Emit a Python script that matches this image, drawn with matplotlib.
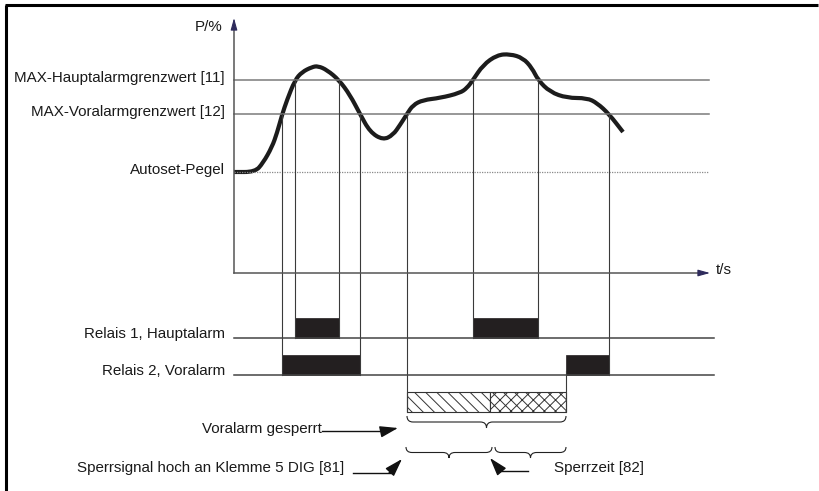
import matplotlib
matplotlib.use("Agg")
import matplotlib.pyplot as plt
from matplotlib.path import Path
from matplotlib.patches import PathPatch, Rectangle

plt.rcParams["font.family"] = ["Liberation Sans", "DejaVu Sans"]
plt.rcParams["hatch.linewidth"] = 0.7

# ---- signal level over time (t, P) ----
curve_t = [0, 21, 29, 38, 43, 48, 53, 61, 68, 78, 84, 93, 105, 116, 126, 136, 149,
           159, 166, 173, 179, 189, 206, 226, 233, 239, 249, 263, 276, 289, 298,
           304, 316, 333, 353, 363, 375, 389]
curve_p = [101, 101, 110, 126, 140, 158, 173, 193, 201, 206, 207, 203, 193, 178,
           159, 141, 133, 138, 148, 159, 168, 173, 175, 180, 185, 193, 208, 218,
           219, 215, 205, 193, 181, 175, 175, 170, 159, 141]

# ---- limit values ----
level_main = 193      # MAX-Hauptalarmgrenzwert [11]
level_pre = 159       # MAX-Voralarmgrenzwert [12]
level_autoset = 101   # Autoset-Pegel

# ---- threshold crossing times ----
cross_main = [61, 105, 239, 304]
cross_pre = [48, 126, 173, 375]

# ---- relay on-intervals ----
relay1_on = [(61, 105), (239, 304)]
relay2_on = [(48, 126), (332, 375)]

# ---- lock phase: signal high, then Sperrzeit ----
lock_start, lock_mid, lock_end = 173, 256, 332

level_labels = ["MAX-Hauptalarmgrenzwert [11]", "MAX-Voralarmgrenzwert [12]", "Autoset-Pegel"]
relay_labels = ["Relais 1, Hauptalarm", "Relais 2, Voralarm"]

# row layout of the relay traces
relay1_base, relay2_base, box_h = -65, -102, 20
lock_top, lock_bot = -119, -139
t_end_axis = 476
t_line_end = 475
t_relay_end = 480

fig = plt.figure(figsize=(8.19, 4.91), dpi=100)
ax = fig.add_axes([0, 0, 1, 1])
ax.set_xlim(-234, 585)
ax.set_ylim(273 - 491, 273)
ax.axis("off")

TXT = "#1a1a1a"
FS = 10.9

# frame
ax.plot([-229, 584], [268, 268], color="black", lw=2.2, solid_capstyle="butt")
ax.plot([-228, -228], [268, -220], color="black", lw=2.2, solid_capstyle="butt")

# threshold lines
for lv in (level_main, level_pre):
    ax.plot([0, t_line_end], [lv, lv], color="#7a7a7a", lw=1.1)
ax.plot([0, t_line_end], [level_autoset] * 2, color="#8a8a8a", lw=0.9,
        linestyle=(0, (1, 1)))

# drop lines from crossings
for t in cross_main:
    ax.plot([t, t], [level_main, relay1_base], color="#3a3a3a", lw=0.8)
for t in cross_pre[:2] + cross_pre[3:]:
    ax.plot([t, t], [level_pre, relay2_base], color="#3a3a3a", lw=0.8)
ax.plot([cross_pre[2]] * 2, [level_pre, lock_bot], color="#3a3a3a", lw=0.8)
ax.plot([lock_end] * 2, [relay2_base + 4, lock_bot], color="#3a3a3a", lw=0.8)

# axes
ax.plot([0, 0], [0, 248], color="#555555", lw=1.1)
ax.plot([0, t_end_axis - 7], [0, 0], color="#555555", lw=1.1)
ax.annotate("", xy=(0, 255), xytext=(0, 245),
            arrowprops=dict(arrowstyle="-|>,head_length=0.9,head_width=0.25",
                            color="#2e2b5c", lw=0.8, mutation_scale=8,
                            shrinkA=0, shrinkB=0))
ax.annotate("", xy=(t_end_axis, 0), xytext=(t_end_axis - 10, 0),
            arrowprops=dict(arrowstyle="-|>,head_length=0.9,head_width=0.25",
                            color="#2e2b5c", lw=0.8, mutation_scale=8,
                            shrinkA=0, shrinkB=0))
ax.text(-12, 246, "P/%", ha="right", va="center", fontsize=FS, color=TXT)
ax.text(482, 3, "t/s", ha="left", va="center", fontsize=FS, color=TXT)

# signal curve, smoothed through midpoints
pts = list(zip(curve_t, curve_p))
verts = [pts[0], ((pts[0][0] + pts[1][0]) / 2, (pts[0][1] + pts[1][1]) / 2)]
codes = [Path.MOVETO, Path.LINETO]
for i in range(1, len(pts) - 1):
    mid = ((pts[i][0] + pts[i + 1][0]) / 2, (pts[i][1] + pts[i + 1][1]) / 2)
    verts += [pts[i], mid]
    codes += [Path.CURVE3, Path.CURVE3]
verts.append(pts[-1])
codes.append(Path.LINETO)
ax.add_patch(PathPatch(Path(verts, codes), facecolor="none", edgecolor="#1c1c1c",
                       lw=3.0, capstyle="butt", joinstyle="round"))

# level labels
for lv, lab in zip((level_main, level_pre, level_autoset), level_labels):
    ax.text(-9, lv + 2, lab, ha="right", va="center", fontsize=FS, color=TXT)

# relay traces
for base, intervals, lab in ((relay1_base, relay1_on, relay_labels[0]),
                             (relay2_base, relay2_on, relay_labels[1])):
    ax.plot([0, t_relay_end], [base, base], color="#444444", lw=1.1)
    for a, b in intervals:
        ax.add_patch(Rectangle((a, base), b - a, box_h, facecolor="#231f20",
                               edgecolor="#231f20", lw=0.5))
    ax.text(-9, base + 4, lab, ha="right", va="center", fontsize=FS, color=TXT)

# lock bar
ax.add_patch(Rectangle((lock_start, lock_bot), lock_mid - lock_start, lock_top - lock_bot,
                       facecolor="white", edgecolor="#333333", hatch="\\\\\\", lw=0.8))
ax.add_patch(Rectangle((lock_mid, lock_bot), lock_end - lock_mid, lock_top - lock_bot,
                       facecolor="white", edgecolor="#333333", hatch="xxx", lw=0.8))


def brace(x0, x1, ytop, h=12, r=6):
    xm = (x0 + x1) / 2
    yh = ytop - h / 2
    v = [(x0, ytop), (x0, yh), (x0 + r, yh), (xm - r, yh), (xm, yh), (xm, ytop - h),
         (xm, yh), (xm + r, yh), (x1 - r, yh), (x1, yh), (x1, ytop)]
    c = [Path.MOVETO, Path.CURVE3, Path.CURVE3, Path.LINETO, Path.CURVE3, Path.CURVE3,
         Path.CURVE3, Path.CURVE3, Path.LINETO, Path.CURVE3, Path.CURVE3]
    ax.add_patch(PathPatch(Path(v, c), facecolor="none", edgecolor="#222222", lw=0.8))


brace(lock_start, lock_end, -143)
brace(lock_start - 1, lock_mid + 2, -174, h=11)
brace(lock_mid + 5, lock_end, -174, h=11)

# annotation arrows
head = dict(arrowstyle="-|>,head_length=1.1,head_width=0.35", color="#111111",
            lw=1.0, mutation_scale=10, shrinkA=0, shrinkB=0)
ax.text(-32, -156, "Voralarm gesperrt", ha="left", va="center", fontsize=FS, color=TXT)
ax.plot([88, 152], [-158, -158], color="#111111", lw=1.0)
ax.annotate("", xy=(164, -155), xytext=(150, -158), arrowprops=head)

ax.text(-157, -195, "Sperrsignal hoch an Klemme 5 DIG [81]", ha="left", va="center",
        fontsize=FS, color=TXT)
ax.plot([119, 157], [-200, -200], color="#111111", lw=1.0)
ax.annotate("", xy=(168, -186), xytext=(155, -200), arrowprops=head)

ax.text(320, -195, "Sperrzeit [82]", ha="left", va="center", fontsize=FS, color=TXT)
ax.plot([294, 265], [-198, -198], color="#111111", lw=1.0)
ax.annotate("", xy=(256, -185), xytext=(267, -198), arrowprops=head)

fig.savefig("out.png", dpi=100)
